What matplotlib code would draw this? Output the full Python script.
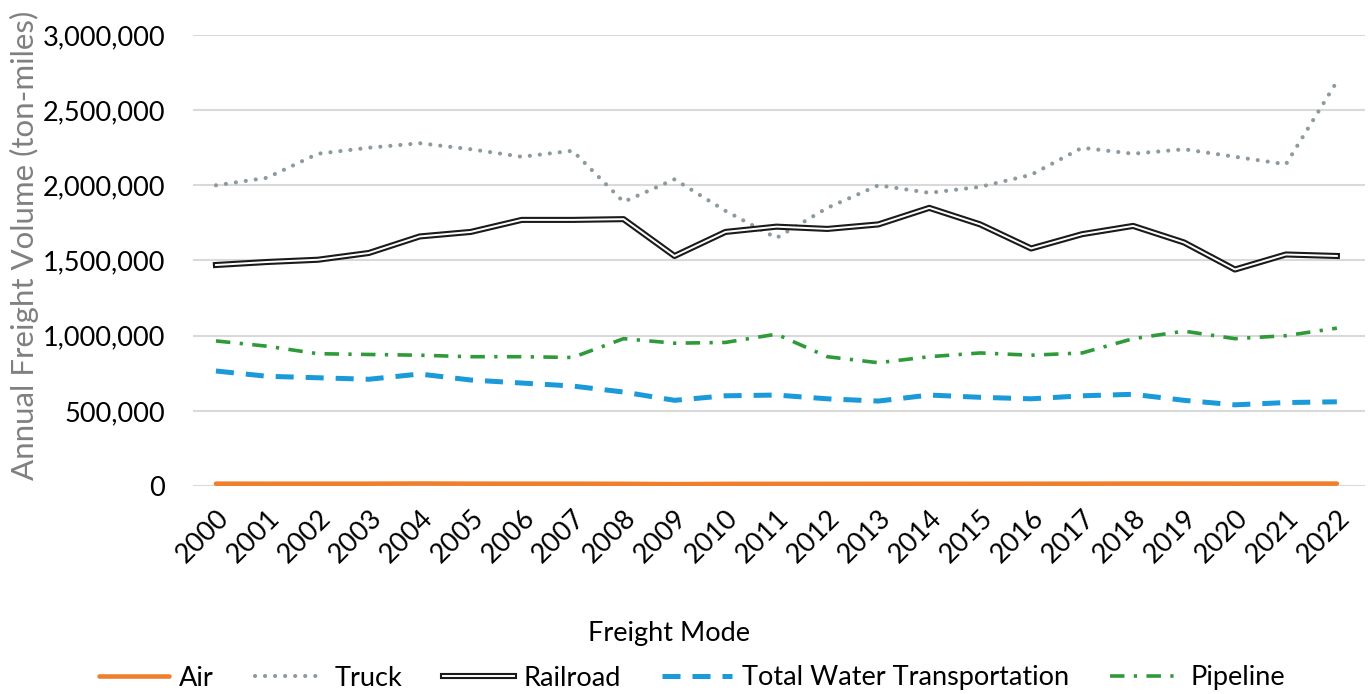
import matplotlib
matplotlib.use("Agg")
import matplotlib.pyplot as plt
import matplotlib.patheffects as pe
from matplotlib.ticker import FuncFormatter

plt.rcParams['font.family'] = ['Lato', 'DejaVu Sans']

years = [str(y) for y in range(2000, 2023)]

# annual ton-miles (millions)
air = [15500, 15000, 15200, 15300, 16500, 15400, 15200, 15100, 14500, 12500,
       14000, 14200, 14300, 14400, 14600, 14700, 14900, 15200, 16000, 15800,
       15500, 15800, 16000]
truck = [2000000, 2050000, 2210000, 2250000, 2280000, 2240000, 2190000, 2230000,
         1890000, 2040000, 1830000, 1650000, 1850000, 2000000, 1950000, 1990000,
         2070000, 2250000, 2210000, 2240000, 2190000, 2140000, 2690000]
railroad = [1470000, 1490000, 1505000, 1550000, 1660000, 1690000, 1770000, 1770000,
            1775000, 1530000, 1690000, 1725000, 1710000, 1740000, 1850000, 1740000,
            1580000, 1675000, 1730000, 1620000, 1440000, 1540000, 1530000]
water = [765000, 730000, 720000, 710000, 745000, 705000, 685000, 665000,
         625000, 570000, 600000, 605000, 580000, 565000, 605000, 590000,
         580000, 600000, 610000, 570000, 540000, 555000, 560000]
pipeline = [965000, 930000, 880000, 875000, 870000, 860000, 860000, 855000,
            980000, 950000, 955000, 1010000, 860000, 820000, 860000, 885000,
            870000, 885000, 980000, 1030000, 980000, 1000000, 1050000]

fig = plt.figure(figsize=(13.69, 6.94), dpi=100)
ax = fig.add_axes([0.141, 0.2997, 0.856, 0.6499])

x = list(range(len(years)))

ax.plot(x, air, color='#f07f2d', lw=3.3, label='Air', solid_capstyle='round')
ax.plot(x, truck, color='#8d9aa0', lw=3.0, linestyle=(0, (0.01, 2.4)),
        dash_capstyle='round', label='Truck')
ax.plot(x, railroad, color='white', lw=1.4, label='Railroad',
        path_effects=[pe.Stroke(linewidth=4.4, foreground='#1a1a1a'), pe.Normal()])
ax.plot(x, water, color='#1a9ad9', lw=3.6, linestyle=(0, (3.6, 2.4)),
        label='Total Water Transportation')
ax.plot(x, pipeline, color='#2f9a3a', lw=2.6, linestyle=(0, (4.0, 2.6, 0.9, 2.6)),
        label='Pipeline')

ax.set_xlim(-0.45, 22.55)
ax.set_ylim(0, 3000000)
ax.set_yticks(range(0, 3000001, 500000))
ax.yaxis.set_major_formatter(FuncFormatter(lambda v, p: f'{int(v):,}'))
ax.set_xticks(x)
ax.set_xticklabels(years, rotation=45, ha='right', va='top', rotation_mode='anchor')
ax.tick_params(axis='both', length=0, labelsize=19.5, colors='black')
ax.tick_params(axis='x', pad=14)
ax.tick_params(axis='y', pad=20)
ax.grid(axis='y', color='#d9d9d9', lw=1.5)
ax.set_axisbelow(True)
for s in ax.spines.values():
    s.set_visible(False)

fig.text(0.018, 1 - 480 / 694, 'Annual Freight Volume (ton-miles)', rotation=90,
         ha='center', va='bottom', fontsize=22.5, color='#808080')

fig.text(0.489, 1 - 634 / 694, 'Freight Mode', ha='center', va='center', fontsize=19.5)
fig.legend(loc='center', bbox_to_anchor=(0.5055, 1 - 678 / 694), ncol=5, frameon=False,
           fontsize=19.5, handlelength=2.6, handletextpad=0.37, columnspacing=1.5)

fig.savefig('out.png', dpi=100)
